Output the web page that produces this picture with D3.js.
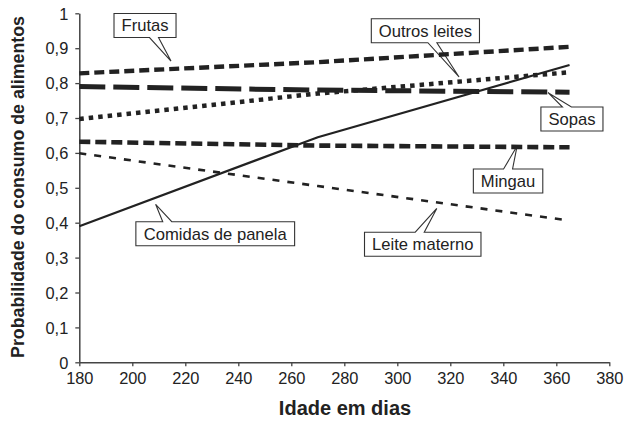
<!DOCTYPE html>
<html><head><meta charset="utf-8">
<script src="https://cdn.jsdelivr.net/npm/d3@7"></script>
<style>body{margin:0;background:#fff}svg{display:block}text{font-family:"Liberation Sans",Arial,Helvetica,sans-serif}</style>
</head><body><svg id="c" width="627" height="421"></svg>
<script>
// ---- data ----
const days = [180, 270, 365];
const frutas = [0.828, 0.860, 0.904];
const sopas = [0.790, 0.780, 0.774];
const outrosLeites = [0.697, 0.770, 0.831];
const mingau = [0.632, 0.621, 0.616];
const leiteMaterno = [0.599, 0.505, 0.406];
const comidasPanela = [0.390, 0.645, 0.852];
const seriesNames = ["Frutas", "Sopas", "Outros leites", "Mingau", "Leite materno", "Comidas de panela"];
const seriesValues = [frutas, sopas, outrosLeites, mingau, leiteMaterno, comidasPanela];
const xTicks = [180, 200, 220, 240, 260, 280, 300, 320, 340, 360, 380];
const yTicks = [0, 0.1, 0.2, 0.3, 0.4, 0.5, 0.6, 0.7, 0.8, 0.9, 1];
const yTickLabels = ["0", "0,1", "0,2", "0,3", "0,4", "0,5", "0,6", "0,7", "0,8", "0,9", "1"];

// ---- styles ----
const styles = {
  "Frutas": {w: 4.4, dash: "10,5"},
  "Sopas": {w: 5, dash: "26,8"},
  "Outros leites": {w: 4.5, dash: "4.5,5"},
  "Mingau": {w: 4.6, dash: "11,5"},
  "Leite materno": {w: 2.6, dash: "7,8"},
  "Comidas de panela": {w: 2.2, dash: null}
};
// callout layout: box centre (data coords), pointer tip (data coords), wedge side & offset (px)
const callouts = [
  {name: "Frutas", bx: 204.8, by: 0.965, tx: 214.6, ty: 0.863, side: "bottom", off: 9},
  {name: "Outros leites", bx: 310.6, by: 0.950, tx: 323.3, ty: 0.8175, side: "bottom", off: 7},
  {name: "Sopas", bx: 365.9, by: 0.697, tx: 356.9, ty: 0.7725, side: "top", off: -5},
  {name: "Mingau", bx: 341.8, by: 0.5195, tx: 345.2, ty: 0.6195, side: "top", off: 0},
  {name: "Comidas de panela", bx: 231.3, by: 0.3685, tx: 208.8, ty: 0.4527, side: "top", off: -48},
  {name: "Leite materno", bx: 309.6, by: 0.3384, tx: 314.9, ty: 0.441, side: "top", off: -3}
];

const svg = d3.select("#c");
const L = 79.3, R = 609.3, T = 13.3, B = 362.3;
const x = d3.scaleLinear().domain([180, 380]).range([L, R]);
const y = d3.scaleLinear().domain([0, 1]).range([B, T]);
const axisColor = "#444";
const ink = "#222";

// axes
const gx = svg.append("g").attr("transform", `translate(0,${B})`)
  .call(d3.axisBottom(x).tickValues(xTicks).tickSizeInner(4).tickSizeOuter(0).tickPadding(6));
const gy = svg.append("g").attr("transform", `translate(${L},0)`)
  .call(d3.axisLeft(y).tickValues(yTicks).tickFormat((d, i) => yTickLabels[i]).tickSizeInner(4).tickSizeOuter(0).tickPadding(7));
[gx, gy].forEach(g => {
  g.select(".domain").attr("stroke", axisColor).attr("stroke-width", 1.5);
  g.selectAll(".tick line").attr("stroke", axisColor).attr("stroke-width", 1.3);
  g.selectAll(".tick text").attr("font-size", 16.4).attr("fill", "#222")
    .attr("font-family", '"Liberation Sans",Arial,sans-serif');
});
gy.selectAll(".tick text").attr("dy", "0.35em");

// axis titles
svg.append("text").attr("x", 345).attr("y", 415).attr("text-anchor", "middle")
  .attr("font-size", 20).attr("font-weight", "bold").attr("fill", "#222").text("Idade em dias");
svg.append("text").attr("transform", "translate(24,187) rotate(-90)").attr("text-anchor", "middle")
  .attr("font-size", 17.8).attr("font-weight", "bold").attr("fill", "#222")
  .text("Probabilidade do consumo de alimentos");

// callouts
const cg = svg.append("g");
callouts.forEach(c => {
  const g = cg.append("g");
  const cx = x(c.bx), cy = y(c.by);
  const t = g.append("text").attr("x", cx).attr("y", cy).attr("dy", "0.36em")
    .attr("text-anchor", "middle").attr("font-size", 16.6).attr("fill", "#222").text(c.name);
  const bb = t.node().getBBox();
  const w = bb.width + 15, h = 24;
  const x0 = cx - w / 2, x1 = cx + w / 2, y0 = cy - h / 2, y1 = cy + h / 2;
  const tx = x(c.tx), ty = y(c.ty), bxm = cx + c.off, hw = 4.5;
  let p;
  if (c.side === "bottom") {
    p = `M${x0},${y0}H${x1}V${y1}H${bxm + hw}L${tx},${ty}L${bxm - hw},${y1}H${x0}Z`;
  } else {
    p = `M${x0},${y0}H${bxm - hw}L${tx},${ty}L${bxm + hw},${y0}H${x1}V${y1}H${x0}Z`;
  }
  g.insert("path", "text").attr("d", p).attr("fill", "#fff").attr("stroke", "#333").attr("stroke-width", 1.1);
});

// lines
const line = d3.line().x((d, i) => x(days[i])).y(d => y(d));
const lg = svg.append("g");
seriesNames.forEach((n, k) => {
  const s = styles[n];
  lg.append("path").datum(seriesValues[k]).attr("d", line)
    .attr("fill", "none").attr("stroke", ink).attr("stroke-width", s.w)
    .attr("stroke-dasharray", s.dash);
});
</script></body></html>
